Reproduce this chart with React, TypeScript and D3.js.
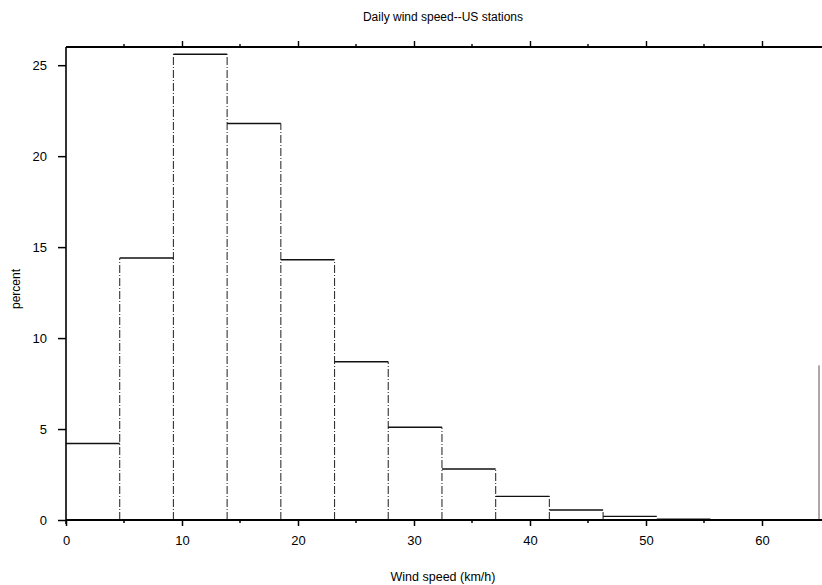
import React, { useEffect, useRef } from 'react';
import * as d3 from 'd3';

// bin edges in km/h (2.5 knot bins)
const binEdges = [0, 4.63, 9.26, 13.89, 18.52, 23.15, 27.78, 32.41, 37.04, 41.67, 46.3, 50.93, 55.56, 60.19, 64.82];
// percent of days in each bin
const percents = [4.2, 14.4, 25.6, 21.8, 14.3, 8.7, 5.1, 2.8, 1.3, 0.55, 0.2, 0.05, 0.02, 0.01];
const xTicks = [0, 10, 20, 30, 40, 50, 60];
const xMinorTicks = [5, 15, 25, 35, 45, 55];
const yTicks = [0, 5, 10, 15, 20, 25];

const title = 'Daily wind speed--US stations';
const xTitle = 'Wind speed (km/h)';
const yTitle = 'percent';

function WindHistogram() {
  const svgRef = useRef<SVGSVGElement>(null);

  useEffect(() => {
    const svg = d3.select(svgRef.current);
    const width = 822;
    const height = 585;
    const margin = { top: 47, right: 2, bottom: 65, left: 66 };
    const font = '"Liberation Sans", Arial, Helvetica, sans-serif';

    const x = d3.scaleLinear().domain([0, 65]).range([margin.left, width - margin.right]);
    const y = d3.scaleLinear().domain([0, 26]).range([height - margin.bottom, margin.top]);

    const bins = percents.map((p, i) => ({ x0: binEdges[i], x1: binEdges[i + 1], p }));

    // vertical sides of the bars (dash-dot like the scanned original)
    const g = svg.append('g');
    bins.forEach((b, i) => {
      const prev = i > 0 ? bins[i - 1].p : 0;
      const hi = Math.max(prev, b.p);
      if (i > 0 && hi > 0.3) {
        g.append('line')
          .attr('x1', x(b.x0)).attr('x2', x(b.x0))
          .attr('y1', y(0)).attr('y2', y(hi))
          .attr('stroke', '#333')
          .attr('stroke-width', 1.1)
          .attr('stroke-dasharray', '8,2,1,2');
      }
    });
    const last = bins[bins.length - 1];
    // bar tops
    g.selectAll('line.top')
      .data(bins)
      .enter()
      .append('line')
      .attr('class', 'top')
      .attr('x1', (d) => x(d.x0))
      .attr('x2', (d) => x(d.x1))
      .attr('y1', (d) => y(d.p))
      .attr('y2', (d) => y(d.p))
      .attr('stroke', '#111')
      .attr('stroke-width', (d) => (d.p > 2 ? 1.5 : 1.3));

    // frame: right side only faintly visible in the lower part
    svg.append('line')
      .attr('x1', x(65) - 1).attr('x2', x(65) - 1)
      .attr('y1', y(8.5)).attr('y2', y(0))
      .attr('stroke', '#555').attr('stroke-width', 1);

    // bottom axis
    const bottom = svg.append('g')
      .attr('transform', `translate(0,${y(0)})`)
      .call(d3.axisBottom(x).tickValues(xTicks).tickSize(6).tickPadding(10).tickFormat(d3.format('d')));
    bottom.select('.domain').attr('stroke', '#000').attr('stroke-width', 2)
      .attr('d', `M${x(0)},0H${width}`);
    bottom.selectAll('text').attr('font-family', font).attr('font-size', 13).attr('fill', '#000');
    bottom.selectAll('line').attr('stroke-width', 1.5);
    svg.append('g')
      .attr('transform', `translate(0,${y(0)})`)
      .selectAll('line')
      .data(xMinorTicks)
      .enter()
      .append('line')
      .attr('x1', (d) => x(d)).attr('x2', (d) => x(d))
      .attr('y1', 0).attr('y2', 3)
      .attr('stroke', '#000').attr('stroke-width', 1.5);

    // top axis
    const top = svg.append('g')
      .attr('transform', `translate(0,${y(26)})`)
      .call(d3.axisTop(x).tickValues(xTicks.slice(1)).tickSize(6).tickFormat(() => ''));
    top.select('.domain').attr('stroke', '#000').attr('stroke-width', 2)
      .attr('d', `M${x(0)},0H${width}`);
    top.selectAll('line').attr('stroke-width', 1.4);
    svg.append('g')
      .attr('transform', `translate(0,${y(26)})`)
      .selectAll('line')
      .data(xMinorTicks)
      .enter()
      .append('line')
      .attr('x1', (d) => x(d)).attr('x2', (d) => x(d))
      .attr('y1', 0).attr('y2', -3)
      .attr('stroke', '#000').attr('stroke-width', 1.4);

    // left axis
    const left = svg.append('g')
      .attr('transform', `translate(${x(0)},0)`)
      .call(d3.axisLeft(y).tickValues(yTicks).tickSize(8).tickPadding(11).tickFormat(d3.format('d')));
    left.select('.domain').attr('stroke', '#000').attr('stroke-width', 1.6)
      .attr('d', `M0,${y(0) + 4}V${y(26)}`);
    left.selectAll('text').attr('font-family', font).attr('font-size', 13).attr('fill', '#000');
    left.selectAll('line').attr('stroke-width', 1.5);

    // titles
    svg.append('text')
      .attr('x', 443).attr('y', 21)
      .attr('text-anchor', 'middle')
      .attr('font-family', font).attr('font-size', 12)
      .text(title);
    svg.append('text')
      .attr('x', 443).attr('y', 581)
      .attr('text-anchor', 'middle')
      .attr('font-family', font).attr('font-size', 12.5)
      .text(xTitle);
    svg.append('text')
      .attr('transform', 'translate(20,289) rotate(-90)')
      .attr('text-anchor', 'middle')
      .attr('font-family', font).attr('font-size', 12)
      .text(yTitle);

    return () => { svg.selectAll('*').remove(); };
  }, []);

  return (
    <svg ref={svgRef} width={822} height={585}
      style={{ position: 'absolute', left: 0, top: 0, background: '#fff' }} />
  );
}

export default function App() {
  return <WindHistogram />;
}
